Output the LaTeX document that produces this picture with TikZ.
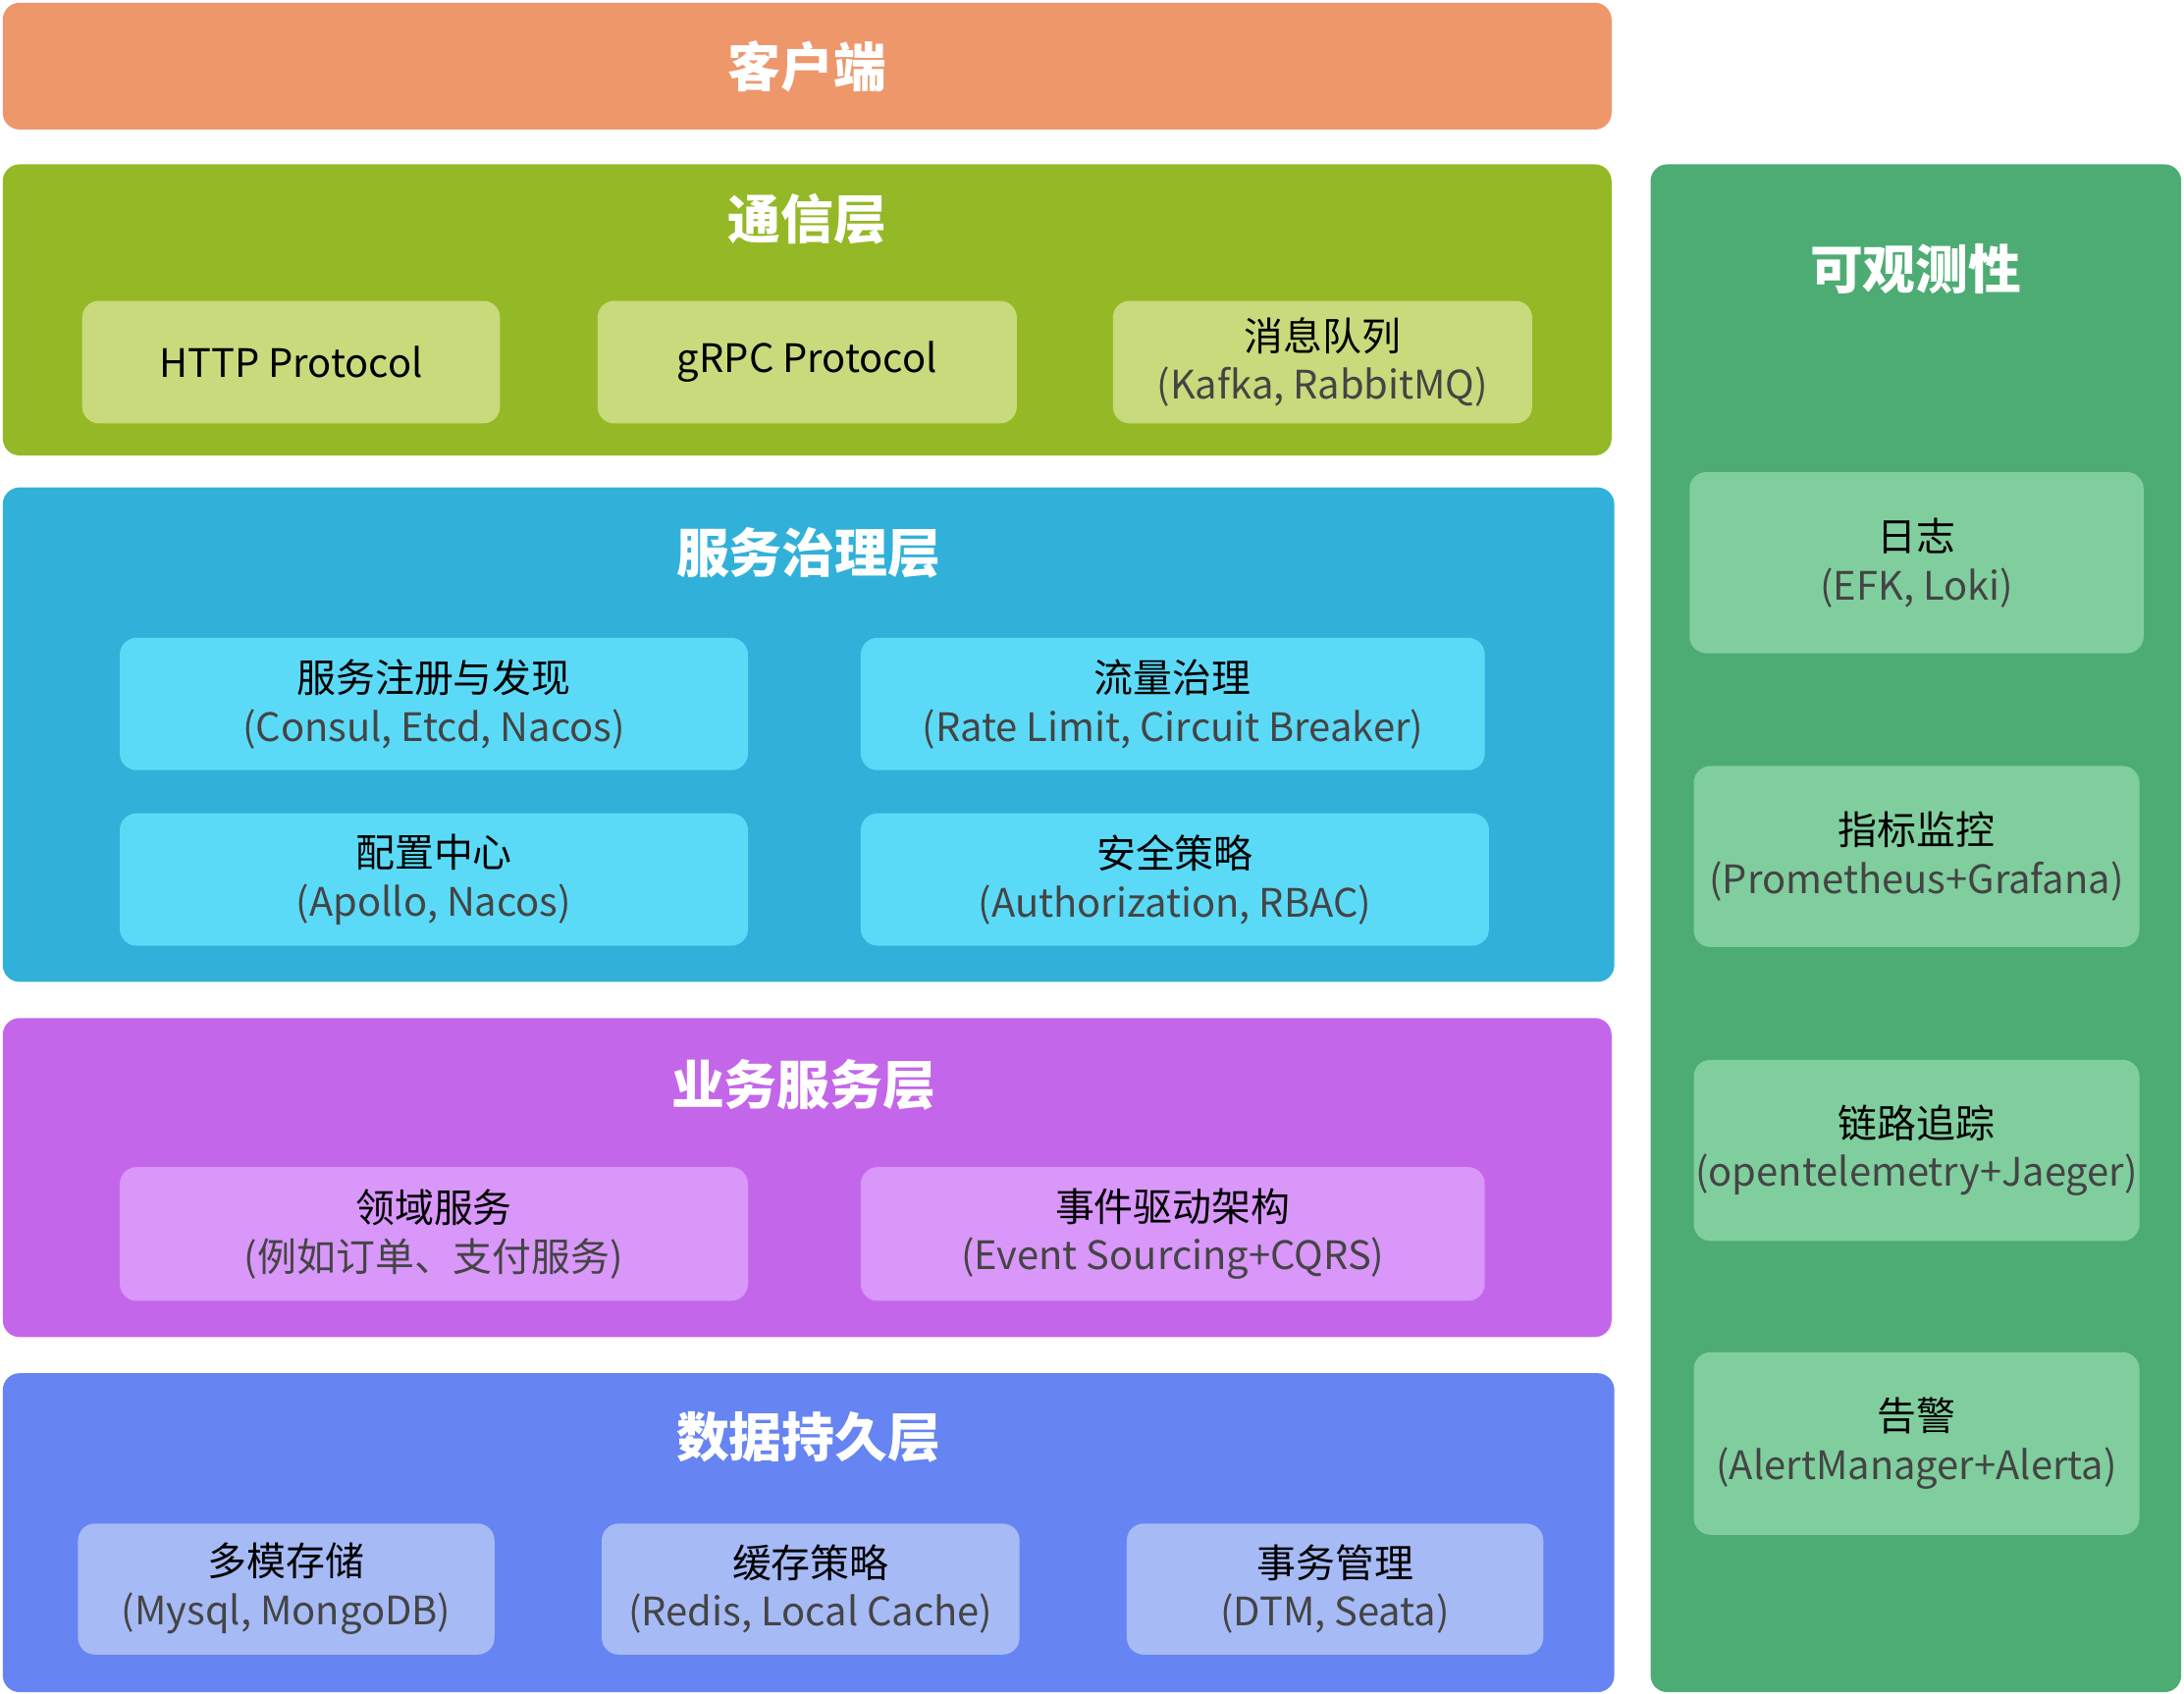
\documentclass[tikz,border=0pt]{standalone}
\usepackage{fontspec}
\setmainfont{Noto Sans CJK SC}
\definecolor{cOr}{HTML}{EE976B}
\definecolor{cGr}{HTML}{95B926}
\definecolor{cGrL}{HTML}{C8DA7C}
\definecolor{cBl}{HTML}{31B1D9}
\definecolor{cBlL}{HTML}{5BDAF7}
\definecolor{cPu}{HTML}{C466EA}
\definecolor{cPuL}{HTML}{D897F9}
\definecolor{cIn}{HTML}{6685F2}
\definecolor{cInL}{HTML}{A6BAF5}
\definecolor{cOb}{HTML}{4DAC73}
\definecolor{cObL}{HTML}{80CE9E}
\definecolor{cSub}{HTML}{444444}
\tikzset{
 layer/.style={rounded corners=0.3cm},
 ttl/.style={text=white,font=\fontsize{27}{30}\selectfont\bfseries},
 lbl/.style={align=center,font=\fontsize{20}{25}\selectfont,text=black},
}
\newcommand{\two}[2]{#1\\{\color{cSub}#2}}
\begin{document}
\begin{tikzpicture}[x=0.025cm,y=-0.025cm]
\useasboundingbox (0,0) rectangle (1568,1216);
% client
\fill[cOr,layer] (2,2) rectangle (1157,93);
\node[ttl] (client) at (579.5,48) {客户端};
% comm
\fill[cGr,layer] (2,118) rectangle (1157,327);
\node[ttl] (comm) at (579.5,157) {通信层};
\fill[cGrL,layer] (59,216) rectangle (359,304);
\node[lbl] (http) at (209,260) {HTTP Protocol};
\fill[cGrL,layer] (429,216) rectangle (730,304);
\node[lbl] (grpc) at (579.5,260) {gRPC Protocol};
\fill[cGrL,layer] (799,216) rectangle (1100,304);
\node[lbl] (mq) at (949.5,260) {\two{消息队列}{(Kafka, RabbitMQ)}};
% governance
\fill[cBl,layer] (2,350) rectangle (1159,705);
\node[ttl] (gov) at (580.5,397) {服务治理层};
\fill[cBlL,layer] (86,458) rectangle (537,553);
\node[lbl] (reg) at (311.5,505.5) {\two{服务注册与发现}{(Consul, Etcd, Nacos)}};
\fill[cBlL,layer] (618,458) rectangle (1066,553);
\node[lbl] (flow) at (842,505.5) {\two{流量治理}{(Rate Limit, Circuit Breaker)}};
\fill[cBlL,layer] (86,584) rectangle (537,679);
\node[lbl] (cfg) at (311.5,631.5) {\two{配置中心}{(Apollo, Nacos)}};
\fill[cBlL,layer] (618,584) rectangle (1069,679);
\node[lbl] (sec) at (843.5,631.5) {\two{安全策略}{(Authorization, RBAC)}};
% business
\fill[cPu,layer] (2,731) rectangle (1157,960);
\node[ttl] (biz) at (577,779) {业务服务层};
\fill[cPuL,layer] (86,838) rectangle (537,934);
\node[lbl] (dom) at (311.5,886) {\two{领域服务}{(例如订单、支付服务)}};
\fill[cPuL,layer] (618,838) rectangle (1066,934);
\node[lbl] (evt) at (842,886) {\two{事件驱动架构}{(Event Sourcing+CQRS)}};
% data
\fill[cIn,layer] (2,986) rectangle (1159,1215);
\node[ttl] (data) at (580.5,1032) {数据持久层};
\fill[cInL,layer] (56,1094) rectangle (355,1188);
\node[lbl] (store) at (205.5,1141) {\two{多模存储}{(Mysql, MongoDB)}};
\fill[cInL,layer] (432,1094) rectangle (732,1188);
\node[lbl] (cache) at (582,1141) {\two{缓存策略}{(Redis, Local Cache)}};
\fill[cInL,layer] (809,1094) rectangle (1108,1188);
\node[lbl] (tx) at (958.5,1141) {\two{事务管理}{(DTM, Seata)}};
% observability
\fill[cOb,layer] (1185,118) rectangle (1566,1215);
\node[ttl] (obs) at (1375.5,193) {可观测性};
\fill[cObL,layer] (1213,339) rectangle (1539,469);
\node[lbl] (log) at (1376,404) {\two{日志}{(EFK, Loki)}};
\fill[cObL,layer] (1216,550) rectangle (1536,680);
\node[lbl] (met) at (1376,615) {\two{指标监控}{(Prometheus+Grafana)}};
\fill[cObL,layer] (1216,761) rectangle (1536,891);
\node[lbl] (trc) at (1376,826) {\two{链路追踪}{(opentelemetry+Jaeger)}};
\fill[cObL,layer] (1216,971) rectangle (1536,1102);
\node[lbl] (alt) at (1376,1036.5) {\two{告警}{(AlertManager+Alerta)}};
\end{tikzpicture}
\end{document}
